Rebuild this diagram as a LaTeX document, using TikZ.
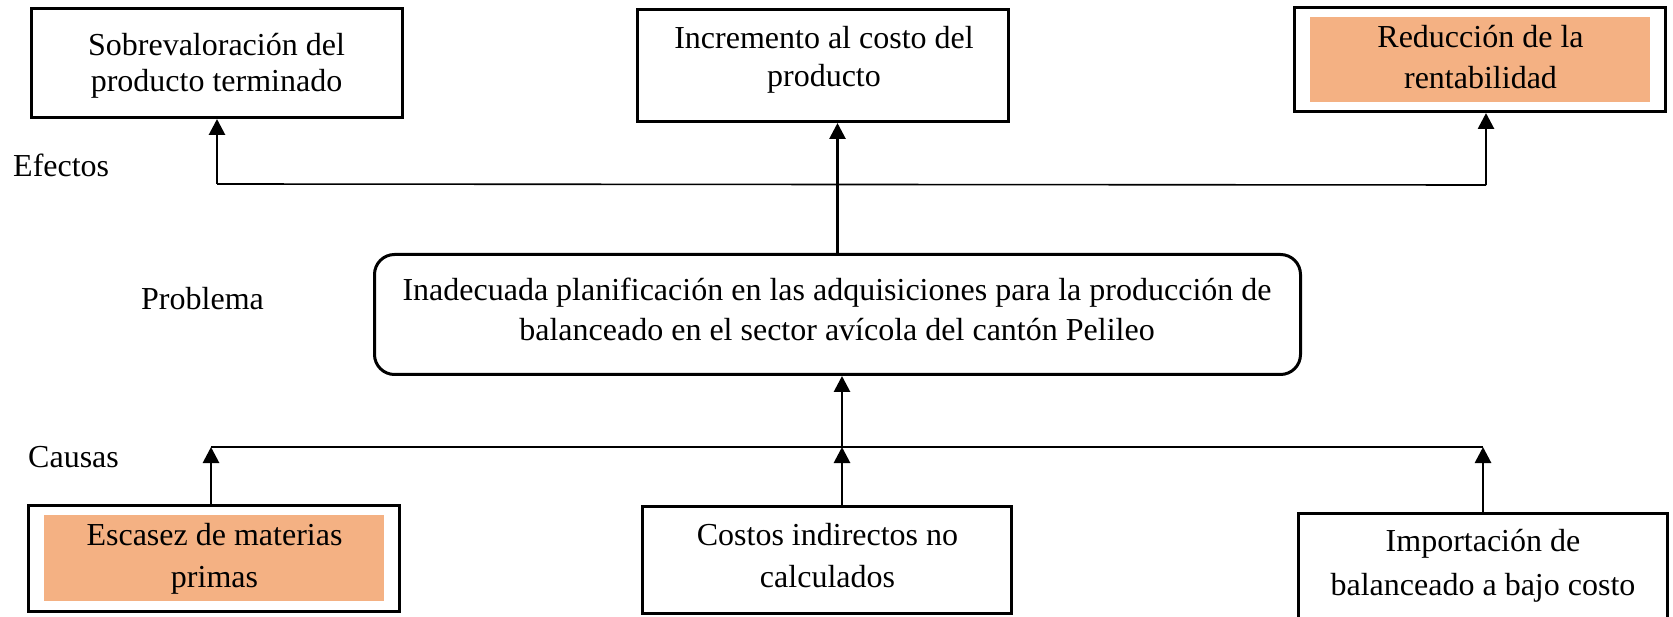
\documentclass[tikz,border=0pt]{standalone}
\usepackage{fontspec}
\setmainfont{Liberation Serif}
\usetikzlibrary{arrows.meta}
\definecolor{peach}{HTML}{F4B183}
\begin{document}
\begin{tikzpicture}[x=1pt,y=-1pt,
  box/.style={draw=black,line width=3pt,rectangle,inner sep=0pt},
  fillbox/.style={fill=peach,draw=none,rectangle,inner sep=0pt},
  txt/.style={align=center,inner sep=0pt,font=\fontsize{32pt}{#1pt}\selectfont},
  lbl/.style={inner sep=0pt,font=\fontsize{32pt}{38pt}\selectfont},
  hline/.style={draw=black,line width=1.6pt},
  arr/.style={draw=black,line width=2.8pt,-{Triangle[length=16pt,width=16pt]}}]
\useasboundingbox (0,0) rectangle (1673,617);
% effects
\node[box,minimum width=371pt,minimum height=109pt] (b1) at (217,63) {};
\node[box,minimum width=371pt,minimum height=112pt] (b2) at (823,65.5) {};
\node[box,minimum width=371pt,minimum height=104pt] (b3) at (1480,59.5) {};
\node[fillbox,minimum width=340pt,minimum height=85pt] (b3f) at (1480,59.5) {};
\node[txt=36] (t1) at (216.5,65.4) {Sobrevaloración del\\producto terminado};
\node[txt=38] (t2) at (824,59.7) {Incremento al costo del\\producto};
\node[txt=41] (t3) at (1480.5,56.7) {Reducción de la\\rentabilidad};
% problem
\node[box,rounded corners=20pt,minimum width=926pt,minimum height=120pt] (prob) at (837.5,314.5) {};
\node[txt=40] (tp) at (837,309.2) {Inadecuada planificación en las adquisiciones para la producción de\\balanceado en el sector avícola del cantón Pelileo};
% causes
\node[box,minimum width=371pt,minimum height=106pt] (b4) at (214,558.5) {};
\node[fillbox,minimum width=340pt,minimum height=86pt] (b4f) at (214,558) {};
\node[box,minimum width=369pt,minimum height=107pt] (b5) at (827,560) {};
\node[box,minimum width=369pt,minimum height=105pt] (b6) at (1483,566) {};
\node[txt=42] (t4) at (214.5,558.6) {Escasez de materias\\primas};
\node[txt=42] (t5) at (827.5,555.5) {Costos indirectos no\\calculados};
\node[txt=44] (t6) at (1483,565.4) {Importación de\\balanceado a bajo costo};
% side labels
\node[lbl,anchor=base west] (lE) at (13,177) {Efectos};
\node[lbl,anchor=base west] (lP) at (141,310) {Problema};
\node[lbl,anchor=base west] (lC) at (28,467) {Causas};
% effect connectors
\coordinate (eL) at (217,184);
\coordinate (eR) at (1486,185);
\draw[hline] (eL) -- (eR);
\draw[arr] (eL) -- (eL |- b1.south);
\draw[arr] (eR) -- (eR |- b3.south);
\draw[arr] (prob.north) -- (prob.north |- b2.south);
% cause connectors
\coordinate (cL) at (211,447);
\coordinate (cR) at (1483,447);
\coordinate (cM) at (842,447);
\draw[hline] (cL) -- (cR);
\draw[arr] (cL |- b4.north) -- (cL);
\draw[arr] (cR |- b6.north) -- (cR);
\draw[arr] (cM |- b5.north) -- (cM);
\draw[arr] (cM) -- (cM |- prob.south);
\end{tikzpicture}
\end{document}
